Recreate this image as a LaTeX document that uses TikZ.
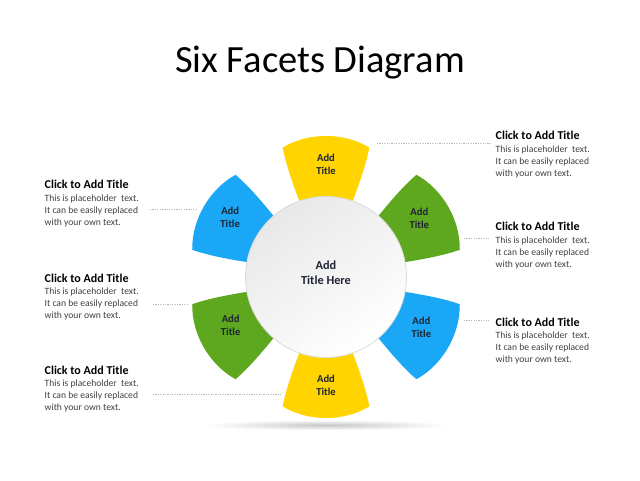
\documentclass[tikz,border=0pt]{standalone}
\usepackage{fontspec}
\setmainfont{Carlito}
\usetikzlibrary{calc}
\definecolor{petY}{RGB}{255,212,0}
\definecolor{petG}{RGB}{94,168,32}
\definecolor{petB}{RGB}{26,168,246}
\definecolor{txtdark}{RGB}{30,36,50}
\definecolor{bodygray}{RGB}{64,64,64}
\definecolor{dashgray}{RGB}{185,185,185}
\newcommand\drawpetal[2]{\fill[#2] ({#1-18.5}:60) .. controls ({#1-19.8}:90) and ({#1-19.8}:118) .. ({#1-18.5}:136.5) .. controls ({#1-7}:146) and ({#1+7}:146) .. ({#1+18.5}:136.5) .. controls ({#1+19.8}:118) and ({#1+19.8}:90) .. ({#1+18.5}:60) -- cycle;}
\begin{document}
\begin{tikzpicture}[x=1pt,y=1pt,
 petallabel/.style={font=\fontsize{10.6}{13}\selectfont\bfseries, text=txtdark, align=center, inner sep=0},
 blocktitle/.style={font=\fontsize{12}{13}\selectfont\bfseries, anchor=base west, inner sep=0},
 blockbody/.style={font=\fontsize{9.6}{11.7}\selectfont, text=bodygray, anchor=base west, inner sep=0, align=left},
 leader/.style={draw=dashgray, line width=0.6pt, dash pattern=on 1.2pt off 1.2pt}]
\useasboundingbox (0,0) rectangle (640,480);
\fill[white] (0,0) rectangle (640,480);

% title
\node[font=\fontsize{38.5}{44}\selectfont, anchor=base, inner sep=0] (title) at (320,407) {Six Facets Diagram};

% shadow
\shade[inner color=black!22, outer color=white] (326,55) ellipse (122 and 5);

% petals
\begin{scope}[shift={(326,203)}]
\drawpetal{90}{petY}
\drawpetal{30}{petG}
\drawpetal{-30}{petB}
\drawpetal{-90}{petY}
\drawpetal{-150}{petG}
\drawpetal{150}{petB}
\path[top color=black!9, bottom color=white, shading angle=35, draw=black!14, line width=0.8pt] (0,0) circle (80.5);
\node[petallabel] (p1) at (90:113) {Add\\Title};
\node[petallabel] (p2) at (32:110) {Add\\Title};
\node[petallabel] (p3) at (-28:108) {Add\\Title};
\node[petallabel] (p4) at (-90:108) {Add\\Title};
\node[petallabel] (p5) at (-153:107) {Add\\Title};
\node[petallabel] (p6) at (148:113) {Add\\Title};
\node[font=\fontsize{12.3}{15}\selectfont\bfseries, text=txtdark, align=center, inner sep=0] (ctr) at (0,4) {Add\\Title Here};
\end{scope}

% leaders
\coordinate (l1a) at (150,271); \coordinate (l1b) at (196,271);
\coordinate (l2a) at (153,176); \coordinate (l2b) at (188,176);
\coordinate (l3a) at (153,86);  \coordinate (l3b) at (281,86);
\coordinate (r1a) at (377,337); \coordinate (r1b) at (492,337);
\coordinate (r2a) at (464,242); \coordinate (r2b) at (490,242);
\coordinate (r3a) at (464,160); \coordinate (r3b) at (490,160);
\foreach \a/\b in {l1a/l1b,l2a/l2b,l3a/l3b,r1a/r1b,r2a/r2b,r3a/r3b} \draw[leader] (\a) -- (\b);

% text blocks (body anchor = baseline of its last line)
\node[blocktitle] (t1) at (44.5,291) {Click to Add Title};
\node[blockbody] (b1) at (44.5,254.9) {This is placeholder\ \ text.\\It can be easily replaced\\with your own text.};
\node[blocktitle] (t2) at (44.5,198) {Click to Add Title};
\node[blockbody] (b2) at (44.5,161.9) {This is placeholder\ \ text.\\It can be easily replaced\\with your own text.};
\node[blocktitle] (t3) at (44.5,106) {Click to Add Title};
\node[blockbody] (b3) at (44.5,69.9) {This is placeholder\ \ text.\\It can be easily replaced\\with your own text.};
\node[blocktitle] (t4) at (495.5,340) {Click to Add Title};
\node[blockbody] (b4) at (495.5,303.9) {This is placeholder\ \ text.\\It can be easily replaced\\with your own text.};
\node[blocktitle] (t5) at (495.5,249) {Click to Add Title};
\node[blockbody] (b5) at (495.5,212.9) {This is placeholder\ \ text.\\It can be easily replaced\\with your own text.};
\node[blocktitle] (t6) at (495.5,154) {Click to Add Title};
\node[blockbody] (b6) at (495.5,117.9) {This is placeholder\ \ text.\\It can be easily replaced\\with your own text.};
\end{tikzpicture}
\end{document}
